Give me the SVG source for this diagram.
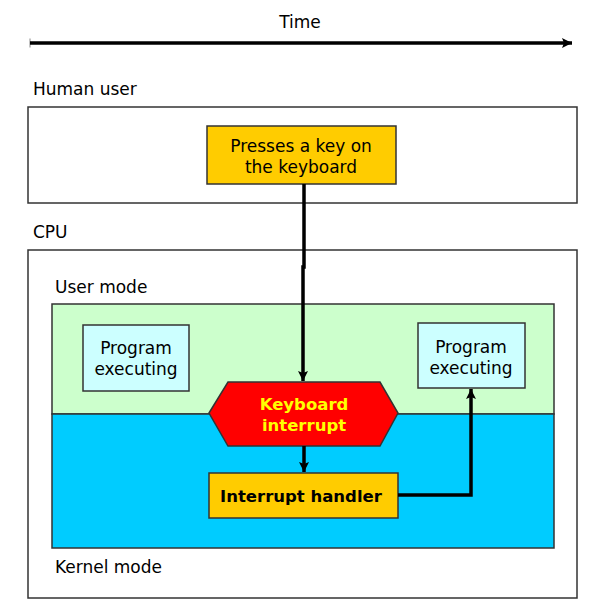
<svg xmlns="http://www.w3.org/2000/svg" width="600" height="609" viewBox="0 0 600 609">
<style>
text{font-family:"DejaVu Sans",Verdana,sans-serif;font-size:17px;fill:#000}
.c{text-anchor:middle}
.b{font-weight:bold;font-size:16.5px}
.frame{fill:#fff;stroke:#333;stroke-width:1.5}
.node{stroke:#333;stroke-width:1.5}
.wire{fill:none;stroke:#000;stroke-width:3.5}
</style>
<defs>
<marker id="ah" viewBox="0 0 10 10" refX="10" refY="5" markerWidth="10" markerHeight="10" markerUnits="userSpaceOnUse" orient="auto">
<path d="M0,0 L10,5 L0,10 L2,5 Z" fill="#000"/>
</marker>
</defs>
<rect width="600" height="609" fill="#fff"/>
<g id="time">
<text class="c" x="300" y="28">Time</text>
</g>
<g id="human">
<text x="33" y="95">Human user</text>
<rect class="frame" x="28" y="107" width="549" height="96"/>
</g>
<g id="cpu">
<text x="33" y="238">CPU</text>
<rect class="frame" x="28" y="250" width="549" height="348"/>
<text x="55" y="293">User mode</text>
<rect x="52" y="304" width="502" height="110" fill="#ccffcc" stroke="#333" stroke-width="1.5"/>
<rect x="52" y="414" width="502" height="134" fill="#00ccff" stroke="#333" stroke-width="1.5"/>
<text x="55" y="573">Kernel mode</text>
</g>
<g id="press">
<rect class="node" x="207" y="126" width="189" height="58" fill="#ffcc00"/>
<text class="c" x="301" y="152">Presses a key on</text>
<text class="c" x="301" y="173">the keyboard</text>
</g>
<g id="prog1">
<rect class="node" x="83" y="325" width="106" height="66" fill="#ccffff"/>
<text class="c" x="136" y="354">Program</text>
<text class="c" x="136" y="375">executing</text>
</g>
<g id="prog2">
<rect class="node" x="418" y="323" width="107" height="65" fill="#ccffff"/>
<text class="c" x="471" y="353">Program</text>
<text class="c" x="471" y="374">executing</text>
</g>
<g id="interrupt">
<polygon class="node" points="209,413 228,382 380,382 398,413 380,446 228,446" fill="#ff0000"/>
<text class="c b" x="304" y="410" style="fill:#ffff00">Keyboard</text>
<text class="c b" x="304" y="431" style="fill:#ffff00">interrupt</text>
</g>
<g id="handler">
<rect class="node" x="209" y="473" width="189" height="45" fill="#ffcc00"/>
<text class="c b" x="301" y="502">Interrupt handler</text>
</g>
<g id="connectors">
<line x1="30" y1="38.5" x2="30" y2="47.5" stroke="#888" stroke-width="1"/>
<line class="wire" x1="30" y1="43" x2="572" y2="43" marker-end="url(#ah)"/>
<path class="wire" d="M304,184 V267 H303 V381" marker-end="url(#ah)"/>
<path class="wire" d="M304,446 V472" marker-end="url(#ah)"/>
<path class="wire" d="M398,495 H471 V389" marker-end="url(#ah)"/>
</g>
</svg>
